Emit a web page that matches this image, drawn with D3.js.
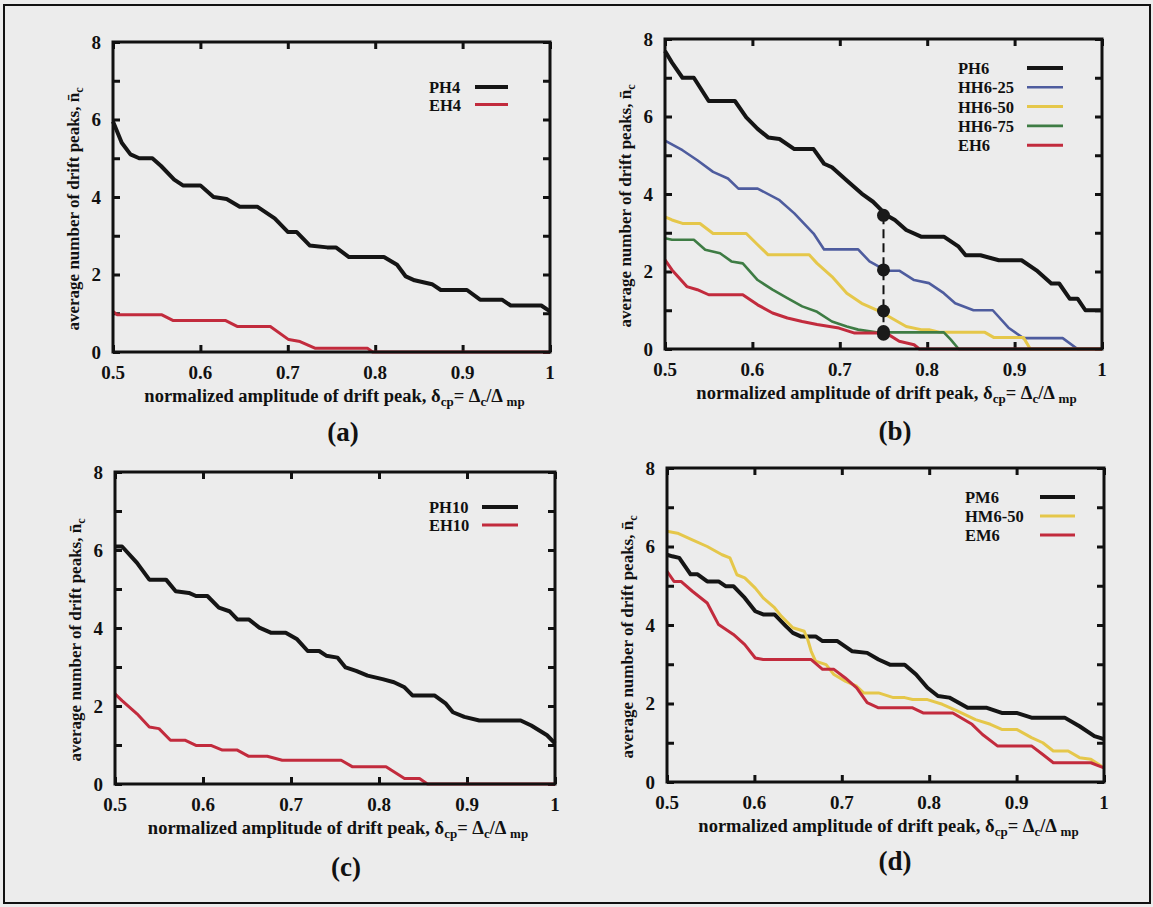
<!DOCTYPE html>
<html>
<head>
<meta charset="utf-8">
<script src="https://cdn.jsdelivr.net/npm/d3@7"></script>
<style>
  body { margin: 0; background: #ececec; }
  text { font-family: "Liberation Serif", "Times New Roman", serif; font-weight: bold; fill: #111; }
</style>
</head>
<body>
<div id="fig"></div>
<script>
// Axis ticks shared by all four panels
var xTicks = [0.5, 0.6, 0.7, 0.8, 0.9, 1];
var xTickLabels = ["0.5", "0.6", "0.7", "0.8", "0.9", "1"];
var yTicks = [0, 1, 2, 3, 4, 5, 6, 7, 8];
var yTickLabels = ["0", "", "2", "", "4", "", "6", "", "8"];

// (a) PH4 / EH4
var xPH4 = [0.5, 0.51, 0.52, 0.53, 0.545, 0.555, 0.57, 0.58, 0.6, 0.615, 0.63, 0.645, 0.665, 0.685, 0.7, 0.71, 0.725, 0.745, 0.755, 0.77, 0.81, 0.825, 0.835, 0.845, 0.865, 0.875, 0.905, 0.92, 0.945, 0.955, 0.99, 1.0];
var nPH4 = [5.95, 5.4, 5.1, 5.0, 5.0, 4.8, 4.45, 4.3, 4.3, 4.0, 3.95, 3.75, 3.75, 3.45, 3.1, 3.1, 2.75, 2.7, 2.7, 2.45, 2.45, 2.25, 1.95, 1.85, 1.75, 1.6, 1.6, 1.35, 1.35, 1.2, 1.2, 1.05];
var xEH4 = [0.5, 0.505, 0.556, 0.569, 0.629, 0.642, 0.68, 0.701, 0.714, 0.731, 0.791, 0.797, 1.0];
var nEH4 = [1.05, 0.96, 0.96, 0.81, 0.81, 0.66, 0.66, 0.32, 0.27, 0.1, 0.1, 0, 0];

// (b) PH6 / HH6-25 / HH6-50 / HH6-75 / EH6
var xPH6 = [0.5, 0.508, 0.52, 0.533, 0.55, 0.58, 0.593, 0.606, 0.618, 0.631, 0.648, 0.67, 0.682, 0.691, 0.708, 0.725, 0.738, 0.753, 0.763, 0.776, 0.793, 0.819, 0.836, 0.844, 0.861, 0.882, 0.908, 0.925, 0.942, 0.951, 0.963, 0.972, 0.981, 1.0];
var nPH6 = [7.69, 7.39, 7.0, 7.0, 6.4, 6.4, 5.98, 5.68, 5.46, 5.42, 5.16, 5.16, 4.78, 4.69, 4.35, 4.01, 3.8, 3.46, 3.33, 3.07, 2.9, 2.9, 2.64, 2.42, 2.42, 2.29, 2.29, 2.03, 1.69, 1.69, 1.3, 1.3, 1.0, 1.0];
var xHH25 = [0.5, 0.52, 0.537, 0.555, 0.572, 0.584, 0.606, 0.631, 0.648, 0.67, 0.682, 0.721, 0.734, 0.753, 0.768, 0.785, 0.802, 0.819, 0.832, 0.853, 0.875, 0.893, 0.91, 0.955, 0.972, 1.0];
var nHH25 = [5.38, 5.13, 4.87, 4.57, 4.4, 4.14, 4.14, 3.84, 3.5, 2.98, 2.57, 2.57, 2.26, 2.02, 2.02, 1.78, 1.7, 1.44, 1.18, 1.0, 1.0, 0.55, 0.28, 0.28, 0.0, 0.0];
var xHH50 = [0.5, 0.508, 0.52, 0.54, 0.555, 0.593, 0.606, 0.618, 0.665, 0.674, 0.691, 0.708, 0.725, 0.747, 0.759, 0.776, 0.793, 0.802, 0.815, 0.866, 0.876, 0.91, 0.918, 1.0];
var nHH50 = [3.41, 3.33, 3.24, 3.24, 2.98, 2.98, 2.69, 2.43, 2.43, 2.21, 1.87, 1.44, 1.18, 0.96, 0.8, 0.58, 0.5, 0.5, 0.43, 0.43, 0.3, 0.3, 0.0, 0.0];
var xHH75 = [0.5, 0.508, 0.533, 0.546, 0.563, 0.576, 0.589, 0.606, 0.623, 0.64, 0.657, 0.674, 0.691, 0.708, 0.721, 0.742, 0.819, 0.827, 0.836, 1.0];
var nHH75 = [2.86, 2.82, 2.82, 2.56, 2.47, 2.26, 2.21, 1.78, 1.53, 1.31, 1.1, 0.96, 0.71, 0.58, 0.5, 0.43, 0.43, 0.24, 0.0, 0.0];
var xEH6 = [0.5, 0.508, 0.525, 0.537, 0.55, 0.589, 0.606, 0.623, 0.64, 0.657, 0.674, 0.699, 0.717, 0.753, 0.768, 0.785, 0.791, 1.0];
var nEH6 = [2.3, 2.04, 1.61, 1.53, 1.4, 1.4, 1.14, 0.93, 0.8, 0.71, 0.63, 0.54, 0.41, 0.41, 0.2, 0.11, 0.0, 0.0];
var markerX = 0.75;
var markerN = [3.45, 2.04, 0.98, 0.45, 0.38];

// (c) PH10 / EH10
var xPH10 = [0.5, 0.508, 0.525, 0.539, 0.558, 0.569, 0.584, 0.592, 0.605, 0.618, 0.63, 0.639, 0.652, 0.664, 0.677, 0.694, 0.707, 0.719, 0.732, 0.74, 0.753, 0.762, 0.774, 0.787, 0.804, 0.817, 0.829, 0.838, 0.863, 0.876, 0.884, 0.897, 0.914, 0.961, 0.973, 0.991, 1.0];
var nPH10 = [6.09, 6.09, 5.67, 5.24, 5.24, 4.94, 4.9, 4.82, 4.82, 4.52, 4.43, 4.22, 4.22, 4.01, 3.88, 3.88, 3.71, 3.41, 3.41, 3.29, 3.24, 2.99, 2.9, 2.78, 2.69, 2.61, 2.48, 2.27, 2.27, 2.06, 1.84, 1.72, 1.63, 1.63, 1.5, 1.25, 1.04];
var xEH10 = [0.5, 0.508, 0.525, 0.539, 0.55, 0.563, 0.58, 0.592, 0.609, 0.622, 0.639, 0.652, 0.673, 0.69, 0.757, 0.77, 0.808, 0.829, 0.846, 0.855, 1.0];
var nEH10 = [2.31, 2.14, 1.8, 1.46, 1.42, 1.12, 1.12, 0.99, 0.99, 0.87, 0.87, 0.71, 0.71, 0.61, 0.61, 0.44, 0.44, 0.14, 0.14, 0.0, 0.0];

// (d) PM6 / HM6-50 / EM6
var xPM6 = [0.5, 0.506, 0.514, 0.527, 0.535, 0.546, 0.559, 0.567, 0.576, 0.589, 0.601, 0.61, 0.623, 0.636, 0.644, 0.653, 0.67, 0.678, 0.695, 0.712, 0.729, 0.742, 0.755, 0.772, 0.785, 0.798, 0.81, 0.823, 0.844, 0.866, 0.883, 0.9, 0.917, 0.955, 0.972, 0.989, 1.0];
var nPM6 = [5.79, 5.75, 5.71, 5.29, 5.29, 5.11, 5.11, 4.99, 4.99, 4.69, 4.35, 4.27, 4.27, 3.97, 3.8, 3.71, 3.71, 3.59, 3.59, 3.33, 3.29, 3.12, 2.99, 2.99, 2.74, 2.4, 2.19, 2.15, 1.89, 1.89, 1.76, 1.76, 1.64, 1.64, 1.42, 1.17, 1.09];
var xHM650 = [0.5, 0.512, 0.529, 0.546, 0.563, 0.572, 0.58, 0.589, 0.601, 0.61, 0.623, 0.631, 0.644, 0.657, 0.661, 0.665, 0.67, 0.682, 0.691, 0.704, 0.717, 0.725, 0.742, 0.759, 0.772, 0.781, 0.798, 0.815, 0.832, 0.853, 0.87, 0.883, 0.9, 0.917, 0.93, 0.942, 0.959, 0.972, 0.985, 1.0];
var nHM650 = [6.39, 6.34, 6.17, 6.0, 5.79, 5.71, 5.28, 5.2, 4.94, 4.69, 4.44, 4.22, 3.93, 3.84, 3.63, 3.33, 3.08, 2.99, 2.74, 2.57, 2.44, 2.27, 2.27, 2.15, 2.15, 2.1, 2.1, 1.98, 1.81, 1.59, 1.47, 1.34, 1.34, 1.13, 1.0, 0.79, 0.79, 0.62, 0.58, 0.36];
var xEM6 = [0.5, 0.508, 0.516, 0.529, 0.546, 0.559, 0.576, 0.589, 0.601, 0.61, 0.665, 0.678, 0.691, 0.704, 0.717, 0.729, 0.742, 0.781, 0.793, 0.827, 0.849, 0.861, 0.878, 0.917, 0.93, 0.942, 0.985, 1.0];
var nEM6 = [5.37, 5.11, 5.11, 4.86, 4.56, 4.01, 3.76, 3.5, 3.16, 3.12, 3.12, 2.87, 2.87, 2.65, 2.4, 2.02, 1.89, 1.89, 1.76, 1.76, 1.47, 1.21, 0.92, 0.92, 0.7, 0.49, 0.49, 0.36];

var black = "#151515", red = "#c22b3d", blue = "#4e5c9e", yellow = "#e5c74a", green = "#3e7c44";

function series(name, xs, ys, color, w) {
  return { name: name, color: color, width: w, values: xs.map(function(x, i) { return { x: x, y: ys[i] }; }) };
}

var panels = [
  { tag: "(a)", left: 113, top: 42, width: 437, height: 310, labelX: 343, labelY: 441,
    legend: { textX: 316, x0: 362, x1: 395, y0: 45, dy: 17.5 },
    lines: [series("PH4", xPH4, nPH4, black, 4), series("EH4", xEH4, nEH4, red, 3)] },
  { tag: "(b)", left: 665, top: 39, width: 437, height: 310, labelX: 895, labelY: 440,
    legend: { textX: 293, x0: 362, x1: 398, y0: 29, dy: 19.3 },
    lines: [series("PH6", xPH6, nPH6, black, 4), series("HH6-25", xHH25, nHH25, blue, 2.6),
            series("HH6-50", xHH50, nHH50, yellow, 3), series("HH6-75", xHH75, nHH75, green, 2.6),
            series("EH6", xEH6, nEH6, red, 3)] },
  { tag: "(c)", left: 115, top: 472, width: 440, height: 312, labelX: 346, labelY: 876,
    legend: { textX: 314, x0: 367, x1: 403, y0: 35, dy: 18 },
    lines: [series("PH10", xPH10, nPH10, black, 4), series("EH10", xEH10, nEH10, red, 3)] },
  { tag: "(d)", left: 667, top: 468, width: 437, height: 314, labelX: 895, labelY: 870,
    legend: { textX: 298, x0: 373, x1: 408, y0: 29, dy: 19 },
    lines: [series("PM6", xPM6, nPM6, black, 4), series("HM6-50", xHM650, nHM650, yellow, 3),
            series("EM6", xEM6, nEM6, red, 3)] }
];

var svg = d3.select("#fig").append("svg")
  .attr("width", 1153)
  .attr("height", 907);

svg.append("rect")
  .attr("x", 0).attr("y", 0).attr("width", 1153).attr("height", 907)
  .attr("fill", "#ececec");

// outer frame of the scanned figure
svg.append("rect")
  .attr("x", 4).attr("y", 5).attr("width", 1146).attr("height", 898)
  .attr("fill", "none").attr("stroke", "#111").attr("stroke-width", 2);

panels.forEach(function(p, idx) {
  var g = svg.append("g").attr("transform", `translate(${p.left}, ${p.top})`);

  var xScale = d3.scaleLinear().domain([0.5, 1]).range([0, p.width]);
  var yScale = d3.scaleLinear().domain([0, 8]).range([p.height, 0]);

  // inward ticks on all four sides
  var bottomAxis = d3.axisBottom(xScale).tickValues(xTicks).tickSize(-7).tickFormat("");
  var topAxis = d3.axisTop(xScale).tickValues(xTicks).tickSize(-7).tickFormat("");
  var leftAxis = d3.axisLeft(yScale).tickValues(yTicks).tickSize(-7).tickFormat("");
  var rightAxis = d3.axisRight(yScale).tickValues(yTicks).tickSize(-7).tickFormat("");

  [[bottomAxis, `translate(0, ${p.height})`], [topAxis, "translate(0,0)"],
   [leftAxis, "translate(0,0)"], [rightAxis, `translate(${p.width}, 0)`]].forEach(function(a) {
    var ax = g.append("g").attr("transform", a[1]).call(a[0]);
    ax.select(".domain").remove();
    ax.selectAll("line").attr("stroke", "#111").attr("stroke-width", 3);
  });

  // tick labels
  g.selectAll(".xlab").data(xTicks).enter().append("text")
    .attr("x", d => xScale(d))
    .attr("y", p.height + 27)
    .attr("text-anchor", "middle")
    .style("font-size", "19px")
    .text((d, i) => xTickLabels[i]);

  g.selectAll(".ylab").data(yTicks).enter().append("text")
    .attr("x", -12)
    .attr("y", d => yScale(d) + 6.5)
    .attr("text-anchor", "end")
    .style("font-size", "19px")
    .text((d, i) => yTickLabels[i]);

  // curves
  var line = d3.line().x(d => xScale(d.x)).y(d => yScale(d.y));
  p.lines.forEach(function(s) {
    g.append("path")
      .datum(s.values)
      .attr("d", line)
      .attr("fill", "none")
      .attr("stroke", s.color)
      .attr("stroke-width", s.width)
      .attr("stroke-linejoin", "round");
  });

  // markers at delta = 0.75 in panel (b)
  if (idx === 1) {
    g.append("line")
      .attr("x1", xScale(markerX)).attr("x2", xScale(markerX))
      .attr("y1", yScale(d3.max(markerN))).attr("y2", yScale(d3.min(markerN)))
      .attr("stroke", "#111").attr("stroke-width", 2).attr("stroke-dasharray", "9,5");
    g.selectAll(".marker").data(markerN).enter().append("circle")
      .attr("cx", xScale(markerX))
      .attr("cy", d => yScale(d))
      .attr("r", 6.5)
      .attr("fill", "#1a1a1a");
  }

  // frame
  g.append("rect")
    .attr("width", p.width).attr("height", p.height)
    .attr("fill", "none").attr("stroke", "#111").attr("stroke-width", 3);

  // legend
  p.lines.forEach(function(s, i) {
    var ly = p.legend.y0 + i * p.legend.dy;
    g.append("text")
      .attr("x", p.legend.textX).attr("y", ly + 6)
      .style("font-size", "16.5px")
      .text(s.name);
    g.append("line")
      .attr("x1", p.legend.x0).attr("x2", p.legend.x1)
      .attr("y1", ly).attr("y2", ly)
      .attr("stroke", s.color).attr("stroke-width", s.width);
  });

  // axis titles
  var xt = g.append("text")
    .attr("x", p.width / 2 + 3)
    .attr("y", p.height + 50)
    .attr("text-anchor", "middle")
    .style("font-size", "18.5px");
  xt.append("tspan").text("normalized amplitude of drift peak, δ");
  xt.append("tspan").attr("baseline-shift", "-30%").style("font-size", "13px").text("cp");
  xt.append("tspan").text("= Δ");
  xt.append("tspan").attr("baseline-shift", "-30%").style("font-size", "13px").text("c");
  xt.append("tspan").text("/Δ ");
  xt.append("tspan").attr("baseline-shift", "-30%").style("font-size", "13px").text("mp");

  var yt = g.append("text")
    .attr("transform", `translate(-34, ${p.height / 2 + 12}) rotate(-90)`)
    .attr("text-anchor", "middle")
    .style("font-size", "17px");
  yt.append("tspan").text("average number of drift peaks, n̄");
  yt.append("tspan").attr("baseline-shift", "-30%").style("font-size", "12px").text("c");

  // panel label
  svg.append("text")
    .attr("x", p.labelX).attr("y", p.labelY)
    .attr("text-anchor", "middle")
    .style("font-size", "27px")
    .text(p.tag);
});
</script>
</body>
</html>
